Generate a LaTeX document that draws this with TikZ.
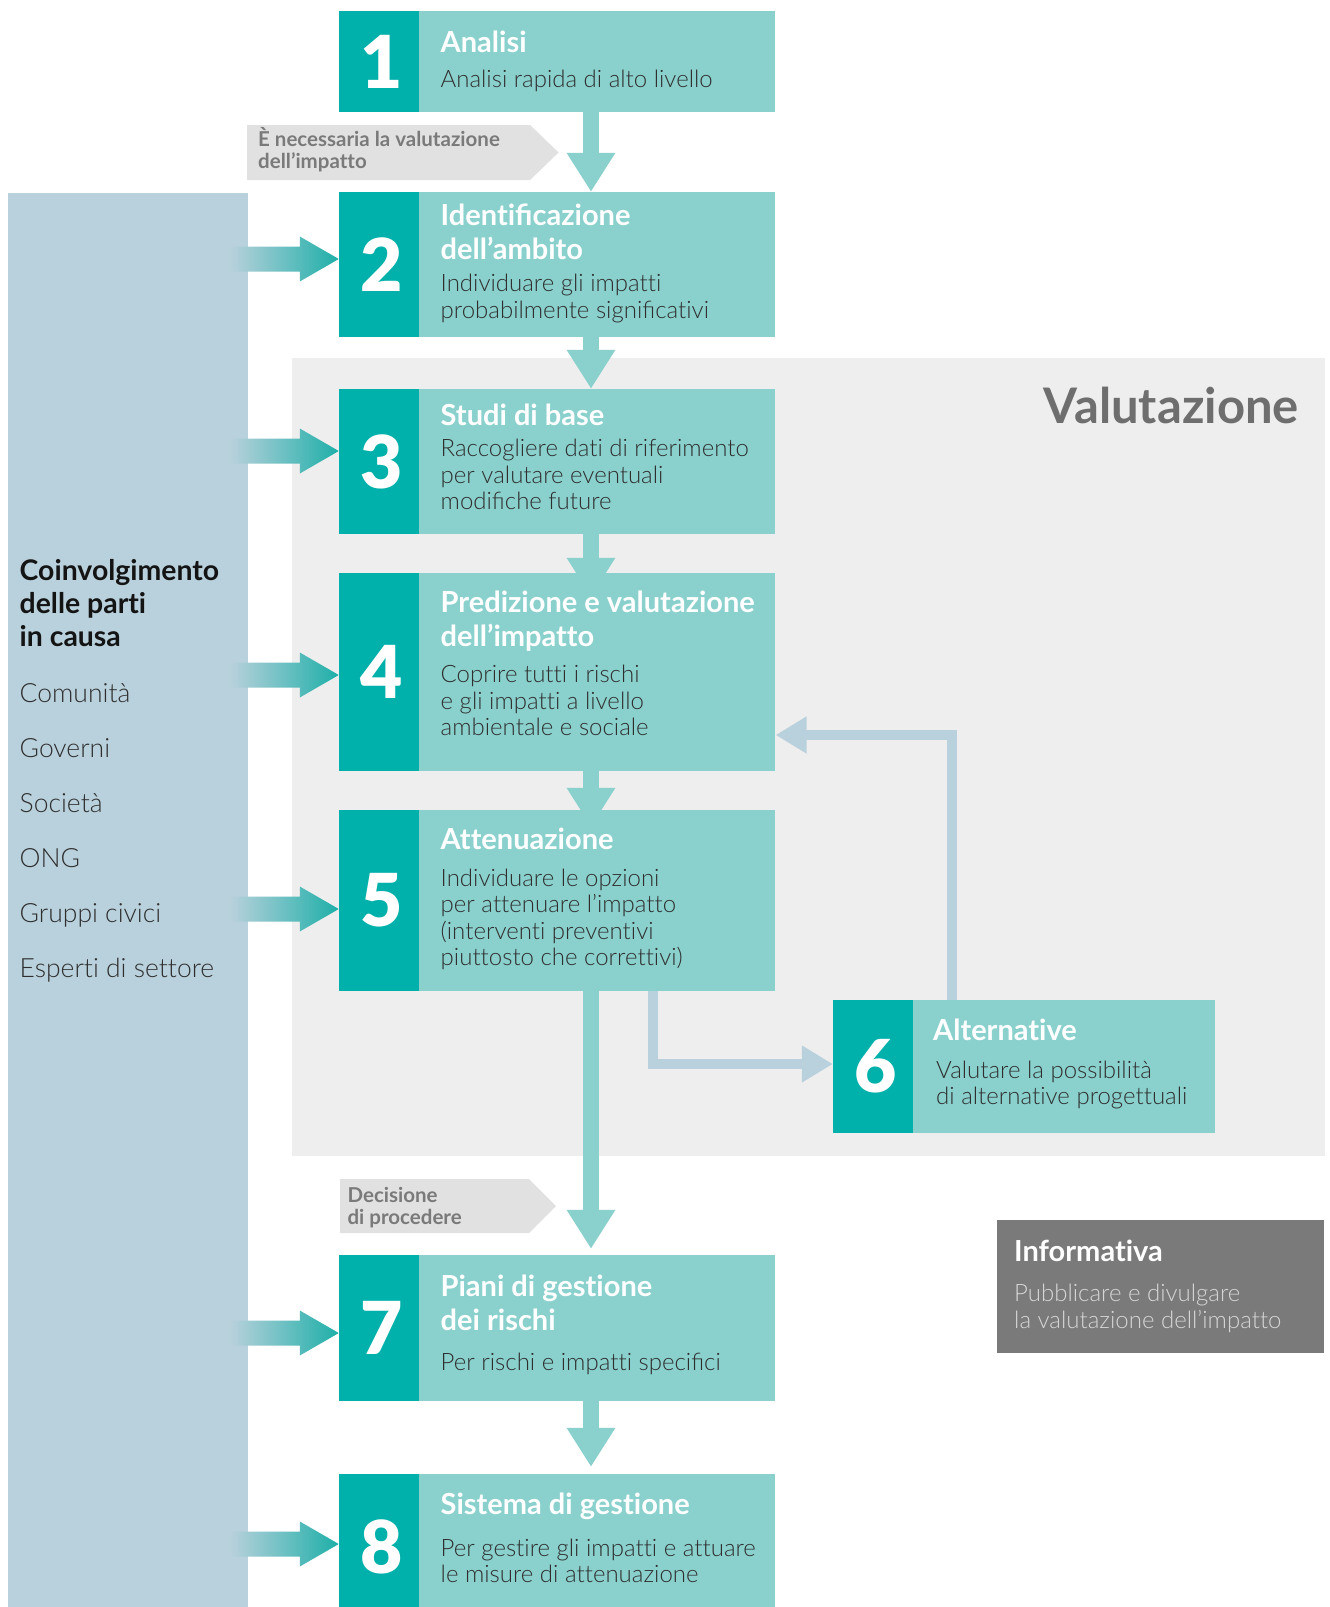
\documentclass[tikz,border=0pt]{standalone}
\usepackage{fontspec}
\defaultfontfeatures{Ligatures=NoCommon}
\setmainfont{Lato}
\newfontfamily\latolight{Lato Light}
\newfontfamily\latoblack{Lato Black}
\usetikzlibrary{arrows.meta,calc}

\definecolor{tealdark}{HTML}{00B0AA}
\definecolor{teallight}{HTML}{8AD1CD}
\definecolor{panel}{HTML}{B9D1DC}
\definecolor{evalbg}{HTML}{EEEEEE}
\definecolor{tagbg}{HTML}{E1E1E1}
\definecolor{tagtext}{HTML}{7A7A7A}
\definecolor{bodytext}{HTML}{2E2E2E}
\definecolor{infobg}{HTML}{7A7A7B}
\definecolor{infotext}{HTML}{D6D6D6}
\definecolor{evaltext}{HTML}{6E6E6E}
\definecolor{arrowend}{HTML}{1EAFA8}

\pgfdeclarelayer{back}
\pgfdeclarelayer{mid}
\pgfsetlayers{back,mid,main}

% one line of a stacked text block; the block's baseline is its first line
\newcommand\Ln[1]{\hbox{#1}}
\newcommand\stk[1]{\vtop{\lineskiplimit=-100pt\lineskip=0pt #1}}

% gradient arrow from the stakeholder panel into a step (tip at #1.west, shifted by #2)
\newcommand\sidearr[2]{%
  \shade[sideshade] ($(#1.west)+(0,#2)$) -- ++(-39,22.5) -- ++(0,-10) -- ++(-70,0)
    -- ++(0,-25) -- ++(70,0) -- ++(0,-10) -- cycle;}

\begin{document}
\begin{tikzpicture}[x=1pt, y=-1pt,
  numbox/.style={fill=tealdark, text=white, inner sep=0, minimum width=80pt,
    font=\latoblack\fontsize{73}{73}\selectfont, execute at begin node=\kern6pt},
  stepbox/.style={fill=teallight, inner sep=0, minimum width=356pt, anchor=west},
  ttl/.style={anchor=base west, inner sep=0, text=white,
    font=\bfseries\fontsize{29}{33.4}\selectfont},
  bdy/.style={anchor=base west, inner sep=0, text=bodytext,
    font=\latolight\fontsize{24}{26.6}\selectfont},
  flowarr/.style={draw=teallight, line width=16pt, -{Triangle[length=39pt,width=46pt]}},
  looparr/.style={draw=panel, line width=10pt, -{Triangle[length=31pt,width=35pt]}},
  sideshade/.style={left color=panel, right color=arrowend},
  tagtxt/.style={anchor=base west, inner sep=0, text=tagtext,
    font=\bfseries\fontsize{20.5}{21.8}\selectfont},
  item/.style={anchor=base west, inner sep=0, text=bodytext,
    font=\latolight\fontsize{26.5}{26.6}\selectfont},
]
\useasboundingbox (0,0) rectangle (1330,1607);
\clip (0,0) rectangle (1330,1607);

% ---------- background areas ----------
\begin{pgfonlayer}{back}
  \fill[white] (0,0) rectangle (1330,1607);
  \fill[panel] (8,193) rectangle (248,1620);
  \fill[evalbg] (292,358) rectangle (1325,1156);
  \fill[tagbg] (247,125) -- (530,125) -- (558.6,152.5) -- (530,180) -- (247,180) -- cycle;
  \fill[tagbg] (340,1179) -- (529,1179) -- (556,1206) -- (529,1233) -- (340,1233) -- cycle;
  \fill[infobg] (997,1220) rectangle (1324,1353);
\end{pgfonlayer}

\node[anchor=base east, inner sep=0, text=evaltext,
  font=\bfseries\fontsize{49}{49}\selectfont] (evtitle) at (1299,423) {Valutazione};

% ---------- stakeholder panel ----------
\node[anchor=base west, inner sep=0, text=black!92,
  font=\bfseries\fontsize{28.4}{33.3}\selectfont] (lhead) at (19.5,580)
  {\stk{\Ln{Coinvolgimento}\Ln{delle parti}\Ln{in causa}}};
\node[item] (c1) at (19.5,702.7) {Comunità};
\node[item] (c2) at (19.5,757.5) {Governi};
\node[item] (c3) at (19.5,812.4) {Società};
\node[item] (c4) at (19.5,867.3) {ONG};
\node[item] (c5) at (19.5,922.2) {Gruppi civici};
\node[item] (c6) at (19.5,977.1) {Esperti di settore};

% ---------- tags ----------
\node[tagtxt] (tag1) at (258,146.7)
  {\stk{\Ln{È necessaria la valutazione}\Ln{dell’impatto}}};
\node[tagtxt] (tag2) at (347.4,1202.7)
  {\stk{\Ln{Decisione}\Ln{di procedere}}};

% ---------- steps ----------
\node[numbox, minimum height=101pt] (n1) at (379,61.5) {1};
\node[stepbox, minimum height=101pt] (b1) at (n1.east) {};
\node[ttl] (t1) at (440.5,52.7) {Analisi};
\node[bdy] (d1) at (440.5,87.3) {Analisi rapida di alto livello};

\node[numbox, minimum height=145pt] (n2) at (379,264.5) {2};
\node[stepbox, minimum height=145pt] (b2) at (n2.east) {};
\node[ttl] (t2) at (440.5,225.7) {\stk{\Ln{Identiﬁcazione}\Ln{dell’ambito}}};
\node[bdy] (d2) at (440.5,291.7) {\stk{\Ln{Individuare gli impatti}\Ln{probabilmente signiﬁcativi}}};

\node[numbox, minimum height=145pt] (n3) at (379,461.5) {3};
\node[stepbox, minimum height=145pt] (b3) at (n3.east) {};
\node[ttl] (t3) at (440.5,425) {Studi di base};
\node[bdy] (d3) at (440.5,456.7)
  {\stk{\Ln{Raccogliere dati di riferimento}\Ln{per valutare eventuali}\Ln{modiﬁche future}}};

\node[numbox, minimum height=198pt] (n4) at (379,672) {4};
\node[stepbox, minimum height=198pt] (b4) at (n4.east) {};
\node[ttl] (t4) at (440.5,612.8) {\stk{\Ln{Predizione e valutazione}\Ln{dell’impatto}}};
\node[bdy] (d4) at (440.5,682.4)
  {\stk{\Ln{Coprire tutti i rischi}\Ln{e gli impatti a livello}\Ln{ambientale e sociale}}};

\node[numbox, minimum height=181pt] (n5) at (379,900.5) {5};
\node[stepbox, minimum height=181pt] (b5) at (n5.east) {};
\node[ttl] (t5) at (440.5,849) {Attenuazione};
\node[bdy] (d5) at (440.5,886)
  {\stk{\Ln{Individuare le opzioni}\Ln{per attenuare l’impatto}\Ln{(interventi preventivi}\Ln{piuttosto che correttivi)}}};

\node[numbox, minimum height=133pt] (n6) at (873,1066.5) {6};
\node[stepbox, minimum height=133pt, minimum width=302pt] (b6) at (n6.east) {};
\node[ttl] (t6) at (933,1040) {Alternative};
\node[bdy] (d6) at (936,1078.3)
  {\stk{\Ln{Valutare la possibilità}\Ln{di alternative progettuali}}};

\node[numbox, minimum height=146pt] (n7) at (379,1328) {7};
\node[stepbox, minimum height=146pt] (b7) at (n7.east) {};
\node[ttl] (t7) at (440.5,1296.7) {\stk{\Ln{Piani di gestione}\Ln{dei rischi}}};
\node[bdy] (d7) at (440.5,1370) {Per rischi e impatti speciﬁci};

\node[numbox, minimum height=146pt] (n8) at (379,1547) {8};
\node[stepbox, minimum height=146pt] (b8) at (n8.east) {};
\node[ttl] (t8) at (440.5,1514.3) {Sistema di gestione};
\node[bdy] (d8) at (440.5,1556)
  {\stk{\Ln{Per gestire gli impatti e attuare}\Ln{le misure di attenuazione}}};

% ---------- disclosure box ----------
\node[anchor=base west, inner sep=0, text=white,
  font=\bfseries\fontsize{29}{33.4}\selectfont] (it) at (1014,1261.7) {Informativa};
\node[anchor=base west, inner sep=0, text=infotext,
  font=\latolight\fontsize{24}{26.6}\selectfont] (ib) at (1014,1301.7)
  {\stk{\Ln{Pubblicare e divulgare}\Ln{la valutazione dell’impatto}}};

% ---------- connectors ----------
\coordinate (ax) at (591,0);
\coordinate (lp1) at (653,0);
\coordinate (lp2) at (951.6,0);
\begin{pgfonlayer}{mid}
  \draw[flowarr] (ax |- b1.south) -- (ax |- b2.north);
  \draw[flowarr] (ax |- b2.south) -- (ax |- b3.north);
  \draw[flowarr, shorten >=-24pt] (ax |- b3.south) -- (ax |- b4.north);
  \draw[flowarr, shorten >=-17pt] (ax |- b4.south) -- (ax |- b5.north);
  \draw[flowarr, shorten >=6pt] (ax |- b5.south) -- (ax |- b7.north);
  \draw[flowarr, shorten >=7pt] (ax |- b7.south) -- (ax |- b8.north);

  \draw[looparr] (lp1 |- b5.south) |- ($(n6.west)+(0,-2.5)$);
  \draw[looparr] (lp2 |- b6.north) |- ($(b4.east)+(0,63)$);

  \sidearr{n2}{-5.5}
  \sidearr{n3}{-10.5}
  \sidearr{n4}{3}
  \sidearr{n5}{8.5}
  \sidearr{n7}{5}
  \sidearr{n8}{-3}
\end{pgfonlayer}
\end{tikzpicture}
\end{document}
